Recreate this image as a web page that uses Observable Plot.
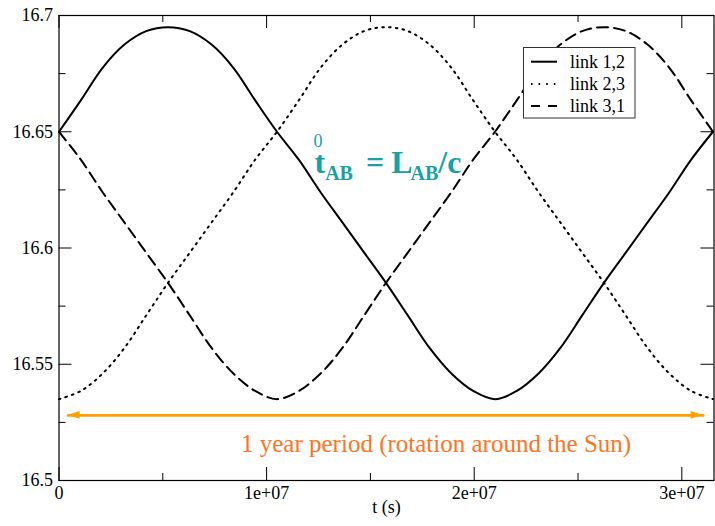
<!DOCTYPE html>
<html><head><meta charset="utf-8">
<script src="https://cdn.jsdelivr.net/npm/d3@7"></script>
<script src="https://cdn.jsdelivr.net/npm/@observablehq/plot@0.6"></script>
<style>
body{margin:0;background:#fff;}
#chart{position:relative;width:715px;height:526px;}
#chart svg, #chart svg text{font-family:'Liberation Serif','Times New Roman',serif;}
</style>
</head><body><div id="chart"></div>
<script>
// ---- data ----
const times = [0, 1.05e6, 2.1e6, 3.15e6, 4.2e6, 5.25e6, 6.3e6, 7.35e6, 8.4e6, 9.45e6,
  1.05e7, 1.155e7, 1.26e7, 1.365e7, 1.47e7, 1.575e7, 1.68e7, 1.785e7, 1.89e7, 1.995e7,
  2.1e7, 2.205e7, 2.31e7, 2.415e7, 2.52e7, 2.625e7, 2.73e7, 2.835e7, 2.94e7, 3.045e7, 3.15e7];
const link12 = [16.650, 16.6635, 16.6775, 16.6875, 16.6933, 16.695, 16.6933, 16.6875, 16.6775, 16.6635,
  16.650, 16.638, 16.624, 16.611, 16.598, 16.585, 16.571, 16.557, 16.546, 16.5385,
  16.535, 16.5385, 16.546, 16.557, 16.571, 16.585, 16.598, 16.611, 16.624, 16.638, 16.650];
const link23 = [16.535, 16.5385, 16.546, 16.557, 16.571, 16.585, 16.598, 16.611, 16.624, 16.638,
  16.650, 16.6635, 16.6775, 16.6875, 16.6933, 16.695, 16.6933, 16.6875, 16.6775, 16.6635,
  16.650, 16.638, 16.624, 16.611, 16.598, 16.585, 16.571, 16.557, 16.546, 16.5385, 16.535];
const link31 = [16.650, 16.638, 16.624, 16.611, 16.598, 16.585, 16.571, 16.557, 16.546, 16.5385,
  16.535, 16.5385, 16.546, 16.557, 16.571, 16.585, 16.598, 16.611, 16.624, 16.638,
  16.650, 16.6635, 16.6775, 16.6875, 16.6933, 16.695, 16.6933, 16.6875, 16.6775, 16.6635, 16.650];
const seriesNames = ["link 1,2", "link 2,3", "link 3,1"];
const xTicks = [0, 1e7, 2e7, 3e7];
const xTickLabels = ["0", "1e+07", "2e+07", "3e+07"];
const xMinorTicks = [5e6, 1.5e7, 2.5e7];
const yTicks = [16.5, 16.55, 16.6, 16.65, 16.7];
const yTickLabels = ["16.5", "16.55", "16.6", "16.65", "16.7"];
const yMinorTicks = [16.525, 16.575, 16.625, 16.675];
const xLabel = "t (s)";
const periodLabel = "1 year period (rotation around the Sun)";
const arrowStart = 4.4e5, arrowEnd = 3.103e7, arrowLevel = 16.528;

// ---- layout ----
const W = 715, H = 526, mL = 58.5, mR = 1.5, mT = 15, mB = 46;
const plotW = W - mL - mR, plotH = H - mT - mB;
const MAJ = 13, MIN = 7;
const serif = "'Liberation Serif', 'Times New Roman', serif";

const rows = s => times.map((t, i) => ({t, v: s[i]}));
const seriesData = [link12, link23, link31].map(rows);
const dashes = [null, "1.6,5.2", "11,6"];

const plot = Plot.plot({
  width: W, height: H,
  marginLeft: mL, marginRight: mR, marginTop: mT, marginBottom: mB,
  style: {fontFamily: serif, fontSize: "18px", color: "#000", background: "#fff"},
  x: {domain: [0, 3.155e7]},
  y: {domain: [16.5, 16.7]},
  marks: [
    ...seriesData.map((d, i) => Plot.line(d, {
      x: "t", y: "v", stroke: "#000", strokeWidth: 2, curve: "catmull-rom",
      strokeDasharray: dashes[i] || undefined
    })),
    // inward ticks on all four sides
    Plot.tickX(xTicks, {x: d => d, insetTop: plotH - MAJ, stroke: "#000"}),
    Plot.tickX(xTicks, {x: d => d, insetBottom: plotH - MAJ, stroke: "#000"}),
    Plot.tickX(xMinorTicks, {x: d => d, insetTop: plotH - MIN, stroke: "#000"}),
    Plot.tickX(xMinorTicks, {x: d => d, insetBottom: plotH - MIN, stroke: "#000"}),
    Plot.tickY(yTicks, {y: d => d, insetRight: plotW - MAJ, stroke: "#000"}),
    Plot.tickY(yTicks, {y: d => d, insetLeft: plotW - MAJ, stroke: "#000"}),
    Plot.tickY(yMinorTicks, {y: d => d, insetRight: plotW - MIN, stroke: "#000"}),
    Plot.tickY(yMinorTicks, {y: d => d, insetLeft: plotW - MIN, stroke: "#000"}),
    Plot.axisX({ticks: xTicks, tickSize: 0, tickPadding: 6, label: null,
      tickFormat: d => xTickLabels[xTicks.indexOf(d)], fontSize: 18, fontFamily: serif, fontVariant: "normal"}),
    Plot.axisY({ticks: yTicks, tickSize: 0, tickPadding: 6, label: null,
      tickFormat: d => yTickLabels[yTicks.findIndex(v => Math.abs(v - d) < 1e-9)],
      fontSize: 18, fontFamily: serif, fontVariant: "normal"}),
    Plot.text([xLabel], {frameAnchor: "bottom", dy: 32, text: d => d, fontSize: 18, fontFamily: serif}),
    Plot.line([{t: arrowStart, v: arrowLevel}, {t: arrowEnd, v: arrowLevel}],
      {x: "t", y: "v", stroke: "#ffa200", strokeWidth: 2.6}),
    Plot.frame({stroke: "#000", strokeWidth: 1.2})
  ]
});
document.getElementById("chart").appendChild(plot);

const svg = d3.select(plot);
svg.style("font-family", serif);
const sx = plot.scale("x").apply, sy = plot.scale("y").apply;

// arrow heads
const ay = sy(arrowLevel), ax0 = sx(arrowStart), ax1 = sx(arrowEnd);
const HL = 12, HW = 3.8;
svg.append("polygon").attr("fill", "#ffa200")
  .attr("points", `${ax0},${ay} ${ax0 + HL},${ay - HW} ${ax0 + HL},${ay + HW}`);
svg.append("polygon").attr("fill", "#ffa200")
  .attr("points", `${ax1},${ay} ${ax1 - HL},${ay - HW} ${ax1 - HL},${ay + HW}`);
svg.append("text").attr("x", 241).attr("y", 452).attr("text-anchor", "start").attr("fill", "#ff7422")
  .style("font-family", serif).style("font-size", "25px").text(periodLabel);

// formula annotation (superscript 0 above t, subscripts AB)
const teal = "#17a2a2";
const f = svg.append("text").attr("x", 313.5).attr("y", 147).attr("text-anchor", "start").attr("fill", teal)
  .style("font-family", serif).style("font-size", "32px");
f.append("tspan").attr("x", 313.5).attr("y", 147).style("font-size", "18px").text("0");
f.append("tspan").attr("x", 314.5).attr("y", 173).style("font-weight", "bold").text("t");
f.append("tspan").attr("dy", 7).style("font-weight", "bold").style("font-size", "20px").text("AB");
f.append("tspan").attr("dy", -7).attr("dx", 13).style("font-weight", "bold").text("=");
f.append("tspan").attr("dx", 7).style("font-weight", "bold").text("L");
f.append("tspan").attr("dy", 7).attr("dx", -2).style("font-weight", "bold").style("font-size", "20px").text("AB");
f.append("tspan").attr("dy", -7).style("font-weight", "bold").text("/c");

// legend
const lg = svg.append("g");
lg.append("rect").attr("x", 523.5).attr("y", 47.5).attr("width", 111.5).attr("height", 70.5)
  .attr("fill", "#fff").attr("stroke", "#333").attr("stroke-width", 1);
const rowsY = [61.7, 84, 106];
seriesNames.forEach((name, i) => {
  lg.append("line").attr("x1", 531).attr("x2", 557).attr("y1", rowsY[i]).attr("y2", rowsY[i])
    .attr("stroke", "#000").attr("stroke-width", 2)
    .attr("stroke-dasharray", i === 1 ? "1.6,6" : i === 2 ? "9,8" : null);
  lg.append("text").attr("x", 570).attr("y", rowsY[i] + 6).attr("text-anchor", "start").attr("fill", "#000")
    .style("font-family", serif).style("font-size", "18px").text(name);
});
</script>
</body></html>
